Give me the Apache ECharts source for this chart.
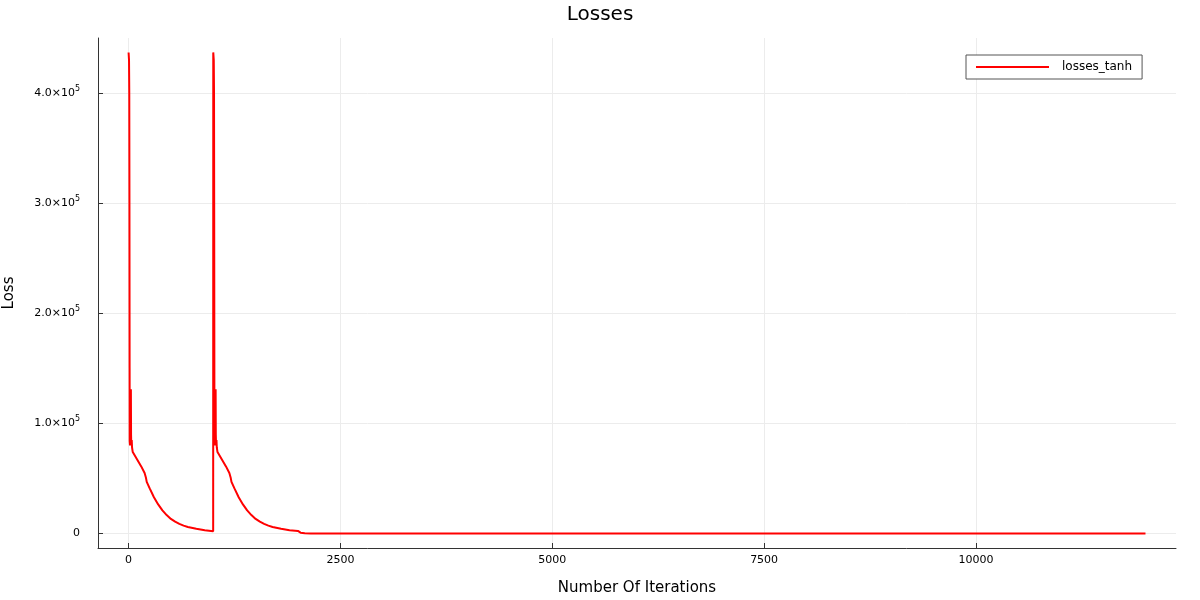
<!DOCTYPE html>
<html>
<head>
<meta charset="utf-8">
<script src="https://cdn.jsdelivr.net/npm/echarts@6/dist/echarts.min.js"></script>
<style>html,body{margin:0;padding:0;background:#fff}#c{width:1200px;height:600px}</style>
</head>
<body>
<div id="c"></div>
<script>
// Data
const iterations = [
  1, 3, 6, 9, 11, 13, 14, 18, 22, 26, 28, 30, 33, 38, 42, 50, 100, 150, 190, 205, 215, 250, 300, 350, 400, 450, 500, 550, 600, 650, 700, 800, 900, 999,
  1000, 1003, 1006, 1009, 1011, 1013, 1014, 1018, 1022, 1026, 1028, 1030, 1033, 1038, 1042, 1050, 1100, 1150, 1190, 1205, 1215, 1250, 1300, 1350, 1400, 1450, 1500, 1550, 1600, 1650, 1700, 1800, 1900, 1999,
  2005, 2030, 2080, 2150, 2300, 3000, 5000, 8000, 10000, 12000
];
const losses = [
  437000, 436000, 430000, 400000, 300000, 150000, 84000, 80000, 86000, 82000, 131000, 90000, 80000, 85000, 78000, 74000, 67500, 61000, 55000, 51000, 47000, 41000, 33000, 26500, 21000, 16800, 13300, 10800, 8800, 7200, 6000, 4300, 3100, 2200,
  437000, 436000, 430000, 400000, 300000, 150000, 84000, 80000, 86000, 82000, 131000, 90000, 80000, 85000, 78000, 74000, 67500, 61000, 55000, 51000, 47000, 41000, 33000, 26500, 21000, 16800, 13300, 10800, 8800, 7200, 6000, 4300, 3100, 2400,
  1800, 800, 300, 150, 100, 100, 100, 100, 100, 100
];
const xTicks = [0, 2500, 5000, 7500, 10000];
const yTicks = [0, 100000, 200000, 300000, 400000];
const seriesName = 'losses_tanh';

const points = iterations.map((x, i) => [x, losses[i]]);
const FONT = 'DejaVu Sans';

function yFmt(v) {
  if (v === 0) return '{a|0}';
  const m = (v / 1e5).toFixed(1);
  return '{a|' + m + '×10}{s|5}';
}

const chart = echarts.init(document.getElementById('c'), null, {renderer: 'canvas'});
chart.setOption({
  animation: false,
  backgroundColor: '#ffffff',
  textStyle: {fontFamily: FONT},
  title: {
    text: 'Losses', left: 'center', top: 0,
    textStyle: {fontFamily: FONT, fontSize: 20, fontWeight: 'normal', color: '#000'}
  },
  legend: {
    data: [{name: seriesName, icon: 'rect'}],
    left: 966, top: 55,
    orient: 'vertical',
    itemWidth: 73, itemHeight: 2, itemGap: 0,
    padding: [6, 10, 6, 10],
    borderColor: '#555', borderWidth: 1, borderRadius: 0,
    backgroundColor: '#fff',
    textStyle: {fontFamily: FONT, fontSize: 12, color: '#000', padding: [0, 0, 0, 8]}
  },
  grid: {left: 98, right: 24, top: 38, bottom: 52, containLabel: false, outerBoundsMode: 'none'},
  xAxis: {
    type: 'value', min: -360, max: 12360,
    name: 'Number Of Iterations', nameLocation: 'middle', nameGap: 33,
    nameTextStyle: {fontFamily: FONT, fontSize: 15, color: '#000'},
    axisLine: {show: true, onZero: false, lineStyle: {color: '#333', width: 1}},
    axisTick: {show: true, inside: true, length: 5, customValues: xTicks, lineStyle: {color: '#333'}},
    axisLabel: {customValues: xTicks, formatter: v => String(v), fontFamily: FONT, fontSize: 11, color: '#000', margin: 7},
    splitLine: {show: true, lineStyle: {color: '#ececec', width: 1}}
  },
  yAxis: {
    type: 'value', min: -13110, max: 450110,
    name: 'Loss', nameLocation: 'middle', nameGap: 81, nameRotate: 90,
    nameTextStyle: {fontFamily: FONT, fontSize: 15, color: '#000'},
    axisLine: {show: true, onZero: false, lineStyle: {color: '#333', width: 1}},
    axisTick: {show: true, inside: true, length: 5, customValues: yTicks, lineStyle: {color: '#333'}},
    axisLabel: {
      customValues: yTicks, margin: 18, formatter: yFmt,
      rich: {
        a: {fontFamily: FONT, fontSize: 11, color: '#000'},
        s: {fontFamily: FONT, fontSize: 8, color: '#000', padding: [0, 0, 9, 0]}
      }
    },
    splitLine: {show: true, lineStyle: {color: '#ececec', width: 1}}
  },
  series: [{
    name: seriesName, type: 'line', data: points,
    showSymbol: false, symbol: 'none',
    lineStyle: {color: '#ff0000', width: 2},
    itemStyle: {color: '#ff0000'},
    z: 3
  }]
});
</script>
</body>
</html>
